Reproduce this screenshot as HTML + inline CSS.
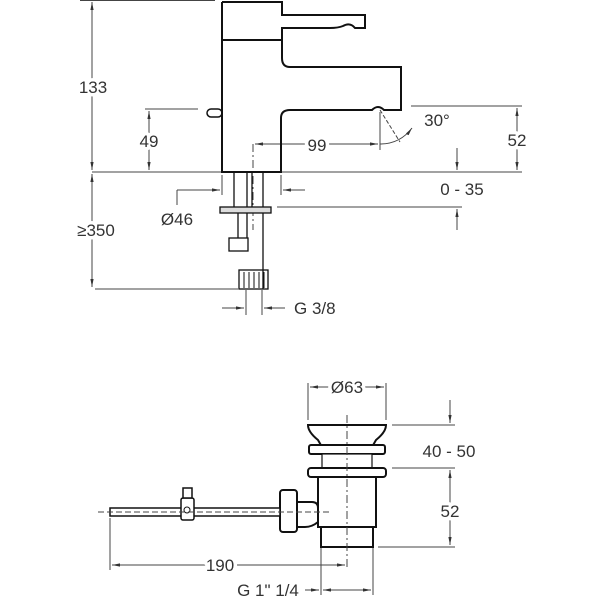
<!DOCTYPE html>
<html><head><meta charset="utf-8"><style>
html,body{margin:0;padding:0;background:#fff}
svg{display:block}
text{font-family:"Liberation Sans",sans-serif;font-size:17px;fill:#333;stroke:#fff;stroke-width:7px;paint-order:stroke;stroke-linejoin:round}
</style></head><body>
<svg width="600" height="600" viewBox="0 0 600 600" xmlns="http://www.w3.org/2000/svg">
<defs>
<marker id="a" viewBox="0 0 10 10" refX="10" refY="5" markerWidth="8" markerHeight="8" orient="auto-start-reverse"><path d="M0,3 L10,5 L0,7 z" fill="#333"/></marker>
</defs>
<g stroke="#444" stroke-width="1" fill="none">
<line x1="80" y1="0.5" x2="215" y2="0.5"/>
<line x1="92" y1="172" x2="522" y2="172"/>
<line x1="95" y1="289" x2="238" y2="289"/>
<line x1="92" y1="2" x2="92" y2="170" marker-start="url(#a)" marker-end="url(#a)"/>
<line x1="92" y1="174" x2="92" y2="287" marker-start="url(#a)" marker-end="url(#a)"/>
<line x1="145" y1="109" x2="198" y2="109"/>
<line x1="149" y1="111" x2="149" y2="170" marker-start="url(#a)" marker-end="url(#a)"/>
<line x1="255" y1="144" x2="378" y2="144" marker-start="url(#a)" marker-end="url(#a)"/>
<line x1="253" y1="144" x2="253" y2="230" stroke-dasharray="8,3,2,3"/>
<line x1="380" y1="112" x2="380" y2="150"/>
<line x1="411" y1="106" x2="522" y2="106"/>
<line x1="517" y1="108" x2="517" y2="170" marker-start="url(#a)" marker-end="url(#a)"/>
<line x1="380" y1="110" x2="400" y2="142" stroke-dasharray="4,2"/>
<path d="M380,144 Q400,144 412,128" marker-end="url(#a)"/>
<line x1="457" y1="148" x2="457" y2="170" marker-end="url(#a)"/>
<line x1="457" y1="230" x2="457" y2="209" marker-end="url(#a)"/>
<line x1="277" y1="207" x2="462" y2="207"/>
<line x1="222" y1="175" x2="222" y2="195"/>
<line x1="281" y1="175" x2="281" y2="195"/>
<line x1="177" y1="190" x2="220" y2="190" marker-end="url(#a)"/>
<line x1="305" y1="190" x2="283" y2="190" marker-end="url(#a)"/>
<line x1="177" y1="190" x2="177" y2="205"/>
<line x1="246" y1="290" x2="246" y2="315"/>
<line x1="262" y1="290" x2="262" y2="315"/>
<line x1="222" y1="308" x2="244" y2="308" marker-end="url(#a)"/>
<line x1="285" y1="308" x2="264" y2="308" marker-end="url(#a)"/>
<line x1="308" y1="383" x2="308" y2="420"/>
<line x1="386" y1="383" x2="386" y2="420"/>
<line x1="310" y1="387" x2="384" y2="387" marker-start="url(#a)" marker-end="url(#a)"/>
<line x1="392" y1="425" x2="455" y2="425"/>
<line x1="392" y1="468" x2="455" y2="468"/>
<line x1="378" y1="547" x2="455" y2="547"/>
<line x1="450" y1="400" x2="450" y2="423" marker-end="url(#a)"/>
<line x1="450" y1="470" x2="450" y2="545" marker-start="url(#a)" marker-end="url(#a)"/>
<line x1="110" y1="518" x2="110" y2="570"/>
<line x1="112" y1="565" x2="345" y2="565" marker-start="url(#a)" marker-end="url(#a)"/>
<line x1="321" y1="547" x2="321" y2="595"/>
<line x1="373" y1="547" x2="373" y2="595"/>
<line x1="305" y1="590" x2="319" y2="590" marker-end="url(#a)"/>
<line x1="323" y1="590" x2="371" y2="590" marker-start="url(#a)" marker-end="url(#a)"/>
</g>
<g stroke="#111" stroke-width="2" fill="none">
<path d="M222,2 H282 V15 H365 V28 H355 Q350,22 343,26 Q338,28 330,28 H282 V40"/>
<path d="M222,2 V172 H281 V118 Q281,110 290,110 H372 Q378,104 384,110 H401 V67 H290 Q282,67 282,58 V40"/>
<line x1="222" y1="40" x2="282" y2="40"/>
<rect x="207" y="109" width="15" height="8" rx="4" stroke-width="1.5"/>
</g>
<g stroke="#111" stroke-width="1.3" fill="none">
<line x1="234" y1="172" x2="234" y2="207"/><line x1="247" y1="172" x2="247" y2="238"/>
<line x1="252" y1="172" x2="252" y2="207"/><line x1="263" y1="172" x2="263" y2="289"/>
<rect x="220" y="207" width="51" height="6" fill="#ddd"/>
<rect x="229" y="238" width="19" height="13"/>
<line x1="238" y1="213" x2="238" y2="238"/>
<rect x="239" y="270" width="29" height="19"/>
<path d="M244,272V288M249,272V288M254,272V288M259,272V288M264,272V288" stroke-width="1"/>
</g>
<g stroke="#111" stroke-width="2" fill="#fff">
<path d="M308,425 H386 Q386,432 376,440 L372,447 H322 L318,440 Q308,432 308,425 Z"/>
<rect x="309" y="445" width="76" height="9" rx="2"/>
<rect x="322" y="454" width="50" height="14" stroke-width="1.2"/>
<rect x="308" y="468" width="78" height="9" rx="3"/>
<rect x="318" y="477" width="58" height="50"/>
<rect x="321" y="527" width="52" height="20"/>
<path d="M297,502 H312 Q318,502 318,508 V522 Q312,527 305,527 H297 Z"/>
<rect x="280" y="490" width="17" height="42" rx="3"/>
<rect x="110" y="508" width="170" height="8" fill="#fff" stroke-width="1.5"/>
<rect x="181" y="498" width="13" height="22" rx="2" stroke-width="1.5"/>
<rect x="183" y="488" width="9" height="10" stroke-width="1.5"/>
<circle cx="187" cy="510" r="3" stroke-width="1"/>
</g>
<line x1="98" y1="512" x2="330" y2="512" stroke="#444" stroke-width="1" stroke-dasharray="6,3"/>
<line x1="347" y1="415" x2="347" y2="567" stroke="#444" stroke-width="1" stroke-dasharray="8,3,2,3"/>
<text x="93" y="93" text-anchor="middle">133</text>
<text x="96" y="236" text-anchor="middle">≥350</text>
<text x="149" y="147" text-anchor="middle">49</text>
<text x="317" y="151" text-anchor="middle">99</text>
<text x="437" y="126" text-anchor="middle">30°</text>
<text x="517" y="146" text-anchor="middle">52</text>
<text x="462" y="195" text-anchor="middle">0 - 35</text>
<text x="177" y="225" text-anchor="middle">Ø46</text>
<text x="294" y="314">G 3/8</text>
<text x="347" y="393" text-anchor="middle">Ø63</text>
<text x="449" y="457" text-anchor="middle">40 - 50</text>
<text x="450" y="517" text-anchor="middle">52</text>
<text x="220" y="571" text-anchor="middle">190</text>
<text x="268" y="596" text-anchor="middle">G 1" 1/4</text>
</svg>
</body></html>
